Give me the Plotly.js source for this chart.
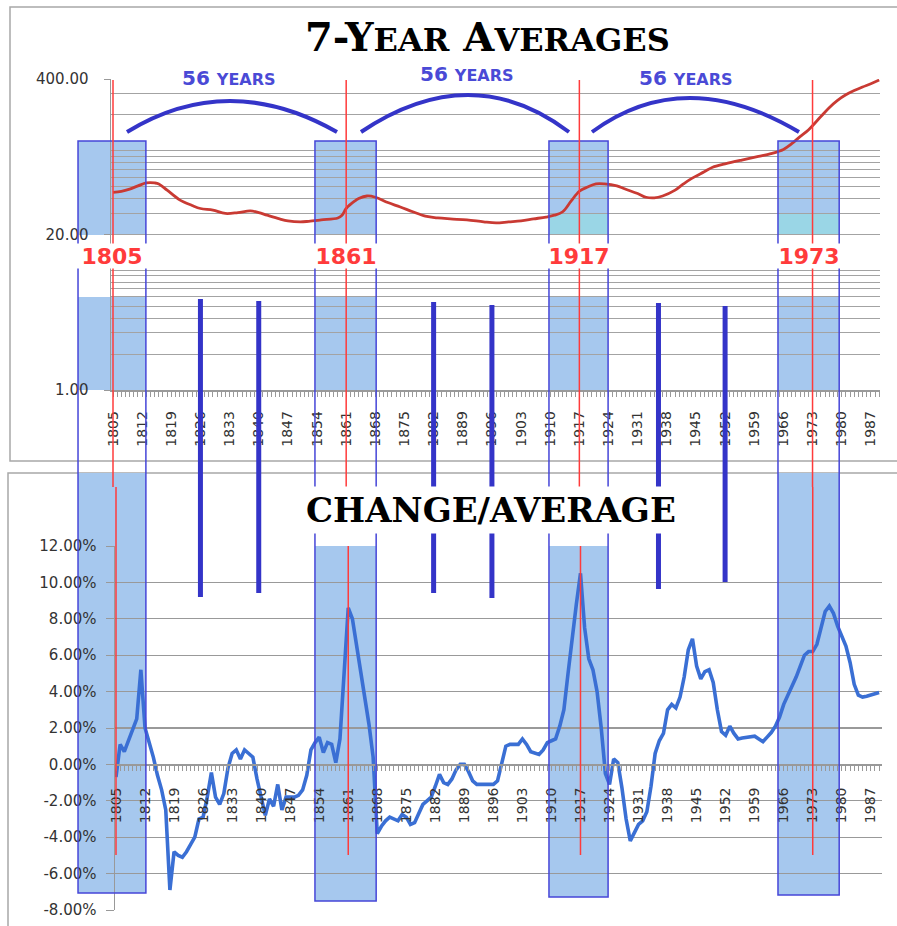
<!DOCTYPE html>
<html><head><meta charset="utf-8">
<script src="https://cdn.plot.ly/plotly-3.0.1.min.js"></script>
<style>html,body{margin:0;padding:0;background:#fff}</style>
</head><body><div id="chart" style="width:897px;height:926px"></div>
<script>
// ---------- data ----------
const avgYears = [1805,1807,1809,1811,1813,1815,1816,1818,1821,1824,1826,1829,1832,1835,1838,1840,1842,1845,1847,1850,1852,1855,1859,1860,1861,1863,1864,1866,1868,1871,1874,1877,1880,1883,1886,1890,1894,1897,1900,1903,1906,1909,1911,1913,1915,1917,1919,1921,1923,1926,1928,1931,1933,1935,1937,1940,1942,1944,1947,1949,1952,1956,1960,1963,1966,1968,1970,1972,1975,1977,1979,1981,1983,1985,1987,1989];
const avgValues = [45,46,48,51,54,54,53,47,39,35,33,32,30,30.5,31.5,30.5,29,27,26,25.5,25.8,26.5,27.5,29,33,38,40,42,41,37,34,31,28.5,27.5,27,26.5,25.5,25,25.5,26,27,28,29,31,38,46,50,53,53,51,48,44,41,40.5,42,47,53,59,67,73,78,84,90,95,103,115,132,150,194,230,265,295,320,343,365,392];

const changeYears = [1805,1806,1807,1808,1809,1810,1811,1812,1813,1814,1815,1816,1817,1818,1819,
1820,1821,1822,1823,1824,1825,1826,1827,1828,1829,1830,1831,1832,1833,1834,1835,1836,1837,1838,1839,
1840,1841,1842,1843,1844,1845,1846,1847,1848,1849,1850,1851,1852,1853,1854,1855,1856,1857,1858,1859,
1860,1861,1862,1863,1864,1865,1866,1867,1868,1869,1870,1871,1872,1873,1874,1875,1876,1877,1878,1879,
1880,1881,1882,1883,1884,1885,1886,1887,1888,1889,1890,1891,1892,1893,1894,1895,1896,1897,1898,1899,
1900,1901,1902,1903,1904,1905,1906,1907,1908,1909,1910,1911,1912,1913,1914,1915,1916,1917,1918,1919,
1920,1921,1922,1923,1924,1925,1926,1927,1928,1929,1930,1931,1932,1933,1934,1935,1936,1937,1938,1939,
1940,1941,1942,1943,1944,1945,1946,1947,1948,1949,1950,1951,1952,1953,1954,1955,1956,1957,1958,1959,
1960,1961,1962,1963,1964,1965,1966,1967,1968,1969,1970,1971,1972,1973,1974,1975,1976,1977,1978,1979,
1980,1981,1982,1983,1984,1985,1986,1987,1988,1989];
const changeValues = [-0.7,1.1,0.7,1.3,1.8,2.5,5.2,2.0,1.2,0.4,-0.6,-1.4,-2.5,-6.9,-4.8,
-5.0,-5.1,-4.8,-4.4,-4.0,-3.0,-2.9,-1.8,-0.45,-1.8,-2.2,-1.6,-0.2,0.6,0.8,0.3,0.8,0.6,0.4,-0.8,
-1.8,-2.8,-1.9,-2.3,-1.1,-2.5,-1.8,-1.8,-1.8,-1.7,-1.4,-0.6,0.8,1.2,1.5,0.65,1.2,1.1,0.1,1.4,
5.0,8.6,8.0,6.5,5.3,3.8,2.2,0.4,-3.8,-3.4,-3.1,-2.9,-3.0,-3.1,-2.75,-2.9,-3.3,-3.2,-2.7,-2.2,
-2.0,-1.8,-1.2,-0.55,-1.0,-1.1,-0.8,-0.3,0.0,0.0,-0.4,-0.9,-1.1,-1.1,-1.1,-1.1,-1.1,-0.9,0.1,1.0,
1.1,1.1,1.1,1.4,1.1,0.7,0.6,0.55,0.8,1.2,1.3,1.4,2.1,3.0,5.0,7.0,8.8,10.5,7.5,5.8,
5.2,4.0,2.0,-0.5,-1.1,0.3,0.1,-1.3,-3.0,-4.2,-3.7,-3.3,-3.1,-2.6,-1.2,0.6,1.3,1.7,3.0,3.3,
3.1,3.7,4.8,6.3,6.9,5.4,4.7,5.1,5.2,4.5,3.0,1.8,1.6,2.1,1.7,1.4,1.45,1.5,1.55,1.55,
1.4,1.25,1.5,1.75,2.1,2.6,3.3,3.8,4.2,4.8,5.4,6.0,6.2,6.2,6.6,7.6,8.4,8.7,8.3,7.6,
7.0,6.5,5.6,4.4,3.8,3.7,3.75,3.8,3.85,3.95];

const yearTickVals = [1805,1812,1819,1826,1833,1840,1847,1854,1861,1868,1875,1882,1889,1896,1903,1910,1917,1924,1931,1938,1945,1952,1959,1966,1973,1980,1987];
const yearTickText = ['1805','1812','1819','1826','1833','1840','1847','1854','1861','1868','1875','1882','1889','1896','1903','1910','1917','1924','1931','1938','1945','1952','1959','1966','1973','1980','1987'];
const avgTickVals = [1,20,400];
const avgTickText = ['1.00','20.00','400.00'];
const avgGridVals = [1,2,3,4,5,6,7,8,9,10,20,30,40,50,60,70,80,90,100,200,300,400];
const pctTickVals = [-8,-6,-4,-2,0,2,4,6,8,10,12];
const pctTickText = ['-8.00%','-6.00%','-4.00%','-2.00%','0.00%','2.00%','4.00%','6.00%','8.00%','10.00%','12.00%'];

const cycleYears = [1805,1861,1917,1973];
const cycleLabels = ['1805','1861','1917','1973'];
const boxStart = [1796.6,1853.5,1909.7,1964.7];
const boxEnd = [1812.9,1868.2,1923.9,1979.4];
const markerYears = [1826,1840,1882,1896,1936,1952];
const spanLabel = '56 <span style="font-size:16px">YEARS</span>';

// ---------- layout geometry (pixels) ----------
const W = 897, H = 926;
const TOP = {x0:111, x1:880, y0:79, y1:390, r0:1804.52, r1:1989.2};
const BOT = {x0:115, x1:882, y0:546, y1:910, r0:1804.76, r1:1989.7};
const fx = p => p / W;
const fy = p => 1 - p / H;
const yearPx = yr => TOP.x0 + (yr - TOP.r0) * (TOP.x1 - TOP.x0) / (TOP.r1 - TOP.r0);

const BOXFILL = '#a6c8ee', BOXLINE = '#4646d8', DARKBLUE = '#3434c8', RED = '#ff3b3b', GRID = '#a3a3a3';
const boxBottom = [893, 901, 897, 895];
const boxLowFillTop = [473, 546, 546, 473];
const barTop = [299, 301, 302, 305, 303, 306];
const barBottom = [597, 593, 593, 598, 589, 582];

const shapes = [];
// panel borders
shapes.push({type:'rect', xref:'paper', yref:'paper', x0:fx(10), x1:fx(905), y0:fy(7), y1:fy(461), line:{color:'#a8a8a8', width:1.5}, fillcolor:'rgba(0,0,0,0)', layer:'below'});
shapes.push({type:'rect', xref:'paper', yref:'paper', x0:fx(8), x1:fx(905), y0:fy(473), y1:fy(935), line:{color:'#a8a8a8', width:1.5}, fillcolor:'rgba(0,0,0,0)', layer:'below'});

cycleYears.forEach((yr, i) => {
  const a = fx(yearPx(boxStart[i])), b = fx(yearPx(boxEnd[i]));
  const fill = (t, btm, c) => shapes.push({type:'rect', xref:'paper', yref:'paper', x0:a, x1:b, y0:fy(btm), y1:fy(t), fillcolor:c, line:{width:0}, layer:'below'});
  fill(141, 235, BOXFILL);
  if (i >= 2) fill(214, 235, '#9ad6e6');
  fill(297, 390, BOXFILL);
  fill(boxLowFillTop[i], boxBottom[i], BOXFILL);
  shapes.push({type:'rect', xref:'paper', yref:'paper', x0:a, x1:b, y0:fy(boxBottom[i]), y1:fy(141), fillcolor:'rgba(0,0,0,0)', line:{color:BOXLINE, width:1.5}, layer:'above'});
  // red cycle lines
  shapes.push({type:'line', xref:'x', yref:'paper', x0:yr, x1:yr, y0:fy(80), y1:fy(487), line:{color:RED, width:1.5}, layer:'above'});
  const lowTop = (i === 1 || i === 2) ? 546 : 487;
  shapes.push({type:'line', xref:'x2', yref:'paper', x0:yr, x1:yr, y0:fy(lowTop), y1:fy(855), line:{color:RED, width:1.5}, layer:'above'});
});

markerYears.forEach((yr, i) => {
  shapes.push({type:'line', xref:'x', yref:'paper', x0:yr, x1:yr, y0:fy(barTop[i]), y1:fy(barBottom[i]), line:{color:DARKBLUE, width:5}, layer:'above'});
});

// 56-year arcs (start, peak, end in pixels)
const arcs = [[[127,132],[230,101],[337,132]], [[361,132],[468,95],[569,132]], [[592,132],[690,98],[799,132]]];
arcs.forEach(([s, p, e]) => {
  const cx = 2*p[0] - (s[0]+e[0])/2, cy = 2*p[1] - (s[1]+e[1])/2;
  shapes.push({type:'path', xref:'paper', yref:'paper',
    path:`M ${fx(s[0])},${fy(s[1])} Q ${fx(cx)},${fy(cy)} ${fx(e[0])},${fy(e[1])}`,
    line:{color:DARKBLUE, width:4}, layer:'above'});
});

const annotations = [];
annotations.push({xref:'paper', yref:'paper', x:fx(487), y:fy(37), xanchor:'center', yanchor:'middle', showarrow:false,
  text:'7-Y<span style="font-size:32px">EAR</span> A<span style="font-size:32px">VERAGES</span>',
  font:{family:'DejaVu Serif', size:40, weight:'bold', color:'#000'}});
annotations.push({xref:'paper', yref:'paper', x:fx(491), y:fy(510), xanchor:'center', yanchor:'middle', showarrow:false,
  text:'CHANGE/AVERAGE', bgcolor:'#fff', borderpad:3,
  font:{family:'DejaVu Serif', size:34, weight:'bold', color:'#000'}});
[[229,78],[467,74],[686,78]].forEach(([x, y]) => {
  annotations.push({xref:'paper', yref:'paper', x:fx(x), y:fy(y), xanchor:'center', yanchor:'middle', showarrow:false,
    text:spanLabel, bgcolor:'#fff', borderpad:0,
    font:{family:'DejaVu Sans', size:20, weight:'bold', color:'#4a4ad6'}});
});
cycleYears.forEach((yr, i) => {
  annotations.push({xref:'paper', yref:'paper', x:fx((yearPx(boxStart[i]) + yearPx(boxEnd[i]))/2), y:fy(256), xanchor:'center', yanchor:'middle', showarrow:false,
    text:cycleLabels[i], bgcolor:'#fff', width:74, height:24, borderpad:0,
    font:{family:'DejaVu Sans', size:22, weight:'bold', color:RED}});
});

const tickFont = {family:'DejaVu Sans', size:14, color:'#333'};
const yFont = {family:'DejaVu Sans', size:15, color:'#333'};
const botDom = [fy(BOT.y1), fy(BOT.y0)];
const zeroPos = botDom[0] + (0 - (-8)) / 20 * (botDom[1] - botDom[0]);

const layout = {
  width: W, height: H, margin:{l:0, r:0, t:0, b:0},
  paper_bgcolor:'#fff', plot_bgcolor:'rgba(0,0,0,0)', showlegend:false,
  xaxis:{domain:[fx(TOP.x0), fx(TOP.x1)], range:[TOP.r0, TOP.r1], anchor:'y',
    tickmode:'array', tickvals:yearTickVals, ticktext:yearTickText, tickangle:-90, tickfont:tickFont,
    ticks:'outside', ticklen:5, tickcolor:'#999', tickwidth:1, ticklabelstandoff:9,
    minor:{tickmode:'linear', tick0:1805, dtick:1, ticks:'outside', ticklen:5, tickcolor:'#999', tickwidth:1, showgrid:false},
    showline:true, linecolor:'#999', linewidth:1.5, showgrid:false, zeroline:false},
  yaxis:{domain:[fy(TOP.y1), fy(TOP.y0)], type:'log', range:[0, Math.log10(400)], anchor:'x',
    tickmode:'array', tickvals:avgTickVals, ticktext:avgTickText, tickfont:yFont,
    ticks:'outside', ticklen:6, tickcolor:'#999', ticklabelstandoff:12,
    showgrid:true, gridcolor:GRID, gridwidth:1,
    minor:{tickmode:'array', tickvals:avgGridVals, showgrid:true, gridcolor:GRID, gridwidth:1, ticks:''},
    showline:true, linecolor:'#999', linewidth:1.5, zeroline:false},
  xaxis2:{domain:[fx(BOT.x0), fx(BOT.x1)], range:[BOT.r0, BOT.r1], anchor:'free', position:zeroPos,
    tickmode:'array', tickvals:yearTickVals, ticktext:yearTickText, tickangle:-90, tickfont:tickFont,
    ticks:'outside', ticklen:5, tickcolor:'#999', tickwidth:1, ticklabelstandoff:11,
    minor:{tickmode:'linear', tick0:1805, dtick:1, ticks:'outside', ticklen:5, tickcolor:'#999', tickwidth:1, showgrid:false},
    showline:true, linecolor:'#999', linewidth:1.5, showgrid:false, zeroline:false},
  yaxis2:{domain:botDom, range:[-8, 12], anchor:'x2',
    tickmode:'array', tickvals:pctTickVals, ticktext:pctTickText, tickfont:yFont,
    ticks:'outside', ticklen:8, tickcolor:'#999', ticklabelstandoff:6,
    showgrid:true, gridcolor:'#999', gridwidth:1.2,
    showline:true, linecolor:'#999', linewidth:1.5, zeroline:false},
  shapes, annotations
};

const traces = [
  {x:avgYears, y:avgValues, xaxis:'x', yaxis:'y', type:'scatter', mode:'lines',
   line:{color:'#c93a33', width:2.8, shape:'spline', smoothing:1}, hoverinfo:'skip'},
  {x:changeYears, y:changeValues, xaxis:'x2', yaxis:'y2', type:'scatter', mode:'lines',
   line:{color:'#3a6fd4', width:3.6}, hoverinfo:'skip'}
];

Plotly.newPlot('chart', traces, layout, {displayModeBar:false, staticPlot:true});
</script></body></html>
